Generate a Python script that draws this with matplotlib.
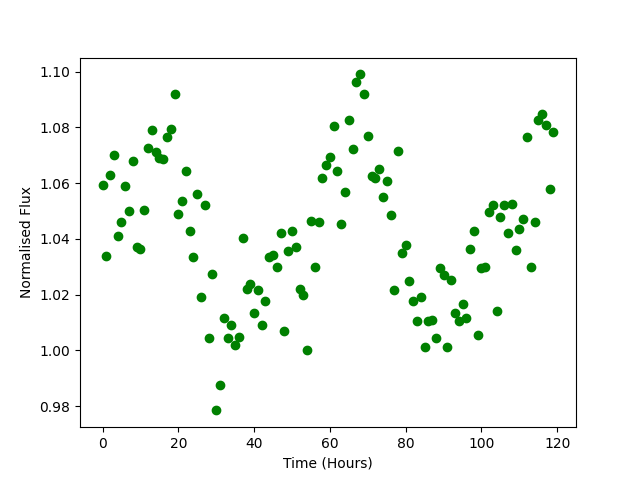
import matplotlib
matplotlib.use("Agg")
import matplotlib.pyplot as plt
import numpy as np

# hourly samples, 0..119
time_hours = np.arange(120)

flux = [
    1.0595, 1.034, 1.063, 1.070, 1.041, 1.046, 1.059, 1.050, 1.068, 1.037,
    1.0365, 1.0505, 1.0725, 1.079, 1.071, 1.069, 1.0685, 1.0765, 1.0795, 1.092,
    1.049, 1.0535, 1.0645, 1.043, 1.0335, 1.056, 1.019, 1.052, 1.0045, 1.0275,
    0.9785, 0.9875, 1.0118, 1.0043, 1.009, 1.002, 1.005, 1.0405, 1.022, 1.0237,
    1.0135, 1.0216, 1.009, 1.0176, 1.0336, 1.0344, 1.030, 1.042, 1.0068, 1.0355,
    1.043, 1.037, 1.022, 1.020, 1.000, 1.0465, 1.030, 1.046, 1.062, 1.0666,
    1.0695, 1.0805, 1.0645, 1.0455, 1.057, 1.0828, 1.0724, 1.0964, 1.099, 1.0918,
    1.077, 1.0624, 1.0617, 1.065, 1.055, 1.0609, 1.0487, 1.0218, 1.0717, 1.035,
    1.0377, 1.025, 1.0176, 1.0107, 1.0193, 1.0014, 1.0104, 1.011, 1.0043, 1.0296,
    1.027, 1.0014, 1.0254, 1.0133, 1.0104, 1.0165, 1.0115, 1.0365, 1.0427, 1.0054,
    1.0297, 1.030, 1.0495, 1.0523, 1.014, 1.048, 1.052, 1.0423, 1.0527, 1.036,
    1.0437, 1.0473, 1.0767, 1.030, 1.0462, 1.0825, 1.0849, 1.081, 1.058, 1.0785,
]

fig, ax = plt.subplots(figsize=(6.4, 4.8), dpi=100)
ax.plot(time_hours, flux, "o", color="green")
ax.set_xlabel("Time (Hours)")
ax.set_ylabel("Normalised Flux")

fig.savefig("out.png")
